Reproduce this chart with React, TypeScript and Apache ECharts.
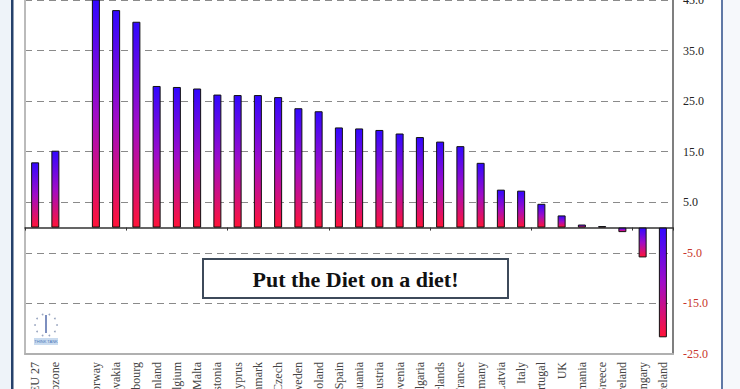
import React, { useEffect, useRef } from "react";
import * as echarts from "echarts";

const categories = [
  "EU 27", "Eurozone", "", "Norway", "Slovakia", "Luxembourg", "Finland", "Belgium",
  "Malta", "Estonia", "Cyprus", "Denmark", "Czech", "Sweden", "Poland", "Spain",
  "Lithuania", "Austria", "Slovenia", "Bulgaria", "Netherlands", "France", "Germany",
  "Latvia", "Italy", "Portugal", "UK", "Romania", "Greece", "Ireland", "Hungary", "Iceland",
];

const values: (number | null)[] = [
  12.9, 15.2, null, 45.5, 43.0, 40.7, 28.0, 27.8,
  27.5, 26.3, 26.2, 26.2, 25.8, 23.6, 23.0, 19.8,
  19.6, 19.3, 18.6, 17.9, 17.0, 16.1, 12.8,
  7.5, 7.3, 4.7, 2.4, 0.6, 0.3, -0.9, -5.9, -21.7,
];

const yMin = -25;
const yMax = 45;
const yStep = 10;

const titleText = "Put the Diet on a diet!";

export default function App() {
  const ref = useRef<HTMLDivElement>(null);
  useEffect(() => {
    if (!ref.current) return;
    const chart = echarts.init(ref.current, null, { renderer: "svg" });
    const serif = "'Liberation Serif', 'DejaVu Serif', serif";
    const barColor = new echarts.graphic.LinearGradient(0, 0, 0, 1, [
      { offset: 0, color: "#3208ff" },
      { offset: 0.5, color: "#a00cc8" },
      { offset: 1, color: "#ff1438" },
    ]);
    chart.setOption({
      animation: false,
      backgroundColor: "#ffffff",
      grid: { left: 25, right: 67, top: 0, bottom: 35, containLabel: false, outerBoundsMode: "none" },
      xAxis: [
        {
          type: "category",
          data: categories,
          position: "bottom",
          axisLine: { show: true, onZero: true, lineStyle: { color: "#333", width: 1.5 } },
          axisTick: { show: true, length: 3, lineStyle: { color: "#333" } },
          axisLabel: { show: false },
          splitLine: { show: false },
        },
        {
          type: "category",
          data: categories,
          position: "bottom",
          axisLine: { show: true, onZero: false, lineStyle: { color: "#b0b0b0", width: 2 } },
          axisTick: { show: false },
          axisLabel: {
            show: true,
            rotate: 90,
            interval: 0,
            margin: 8,
            fontFamily: serif,
            fontSize: 12,
            color: "#444",
          },
        },
      ],
      yAxis: [
        {
          type: "value",
          position: "right",
          min: yMin,
          max: yMax,
          interval: yStep,
          axisLine: { show: true, lineStyle: { color: "#555", width: 1.5 } },
          axisTick: { show: false },
          axisLabel: {
            margin: 10,
            fontFamily: serif,
            fontSize: 12,
            formatter: (v: number) => v.toFixed(1),
            color: (v: any) => (Number(v) < 0 ? "#c8352a" : "#222"),
          },
          splitLine: { show: true, lineStyle: { color: "#8a8a8a", type: [7, 5], width: 1.2 } },
        },
        {
          type: "value",
          position: "left",
          min: yMin,
          max: yMax,
          interval: yStep,
          axisLine: { show: true, lineStyle: { color: "#bbbbbb", width: 2 } },
          axisTick: { show: false },
          axisLabel: { show: false },
          splitLine: { show: false },
        },
      ],
      series: [
        {
          type: "bar",
          xAxisIndex: 0,
          yAxisIndex: 0,
          data: values,
          barWidth: 8,
          itemStyle: { color: barColor, borderColor: "#111", borderWidth: 1 },
        },
      ],
      graphic: [
        { type: "rect", shape: { x: 0, y: 0, width: 11, height: 389 }, style: { fill: "#eef3f9" }, silent: true },
        { type: "rect", shape: { x: 11, y: 0, width: 2.5, height: 389 }, style: { fill: "#25416b" }, silent: true },
        { type: "rect", shape: { x: 721, y: 0, width: 2, height: 389 }, style: { fill: "#6079a6" }, silent: true },
        { type: "rect", shape: { x: 723, y: 0, width: 17, height: 389 }, style: { fill: "#f6f8fb" }, silent: true },
        {
          type: "rect",
          shape: { x: 203, y: 259, width: 305, height: 39 },
          style: { fill: "#ffffff", stroke: "#3d4a5a", lineWidth: 2 },
          z: 100,
        },
        {
          type: "text",
          x: 355.5,
          y: 279,
          style: {
            text: titleText,
            fontFamily: serif,
            fontWeight: "bold",
            fontSize: 22,
            fill: "#111",
            align: "center",
            verticalAlign: "middle",
          },
          z: 101,
        },
        {
          type: "group",
          x: 46,
          y: 325,
          z: 100,
          children: [
            ...[0, 1, 2, 3, 4, 5, 6, 7, 8, 9].map((i) => ({
              type: "circle",
              shape: {
                cx: 11 * Math.cos((i * Math.PI) / 5),
                cy: 11 * Math.sin((i * Math.PI) / 5),
                r: 0.9,
              },
              style: { fill: "#9aa6c0" },
            })),
            { type: "rect", shape: { x: -1, y: -10, width: 2, height: 18 }, style: { fill: "#7d8fbf" } },
            { type: "rect", shape: { x: -12, y: 13, width: 24, height: 7 }, style: { fill: "#c9dbef" } },
            {
              type: "text",
              x: 0,
              y: 16.5,
              style: { text: "THINK TANK", fontSize: 4, fill: "#4a78b8", align: "center", verticalAlign: "middle" },
            },
          ],
        },
      ],
    });
    return () => chart.dispose();
  }, []);
  return (
    <div
      ref={ref}
      style={{ position: "fixed", left: 0, top: 0, width: 740, height: 389 }}
    />
  );
}
